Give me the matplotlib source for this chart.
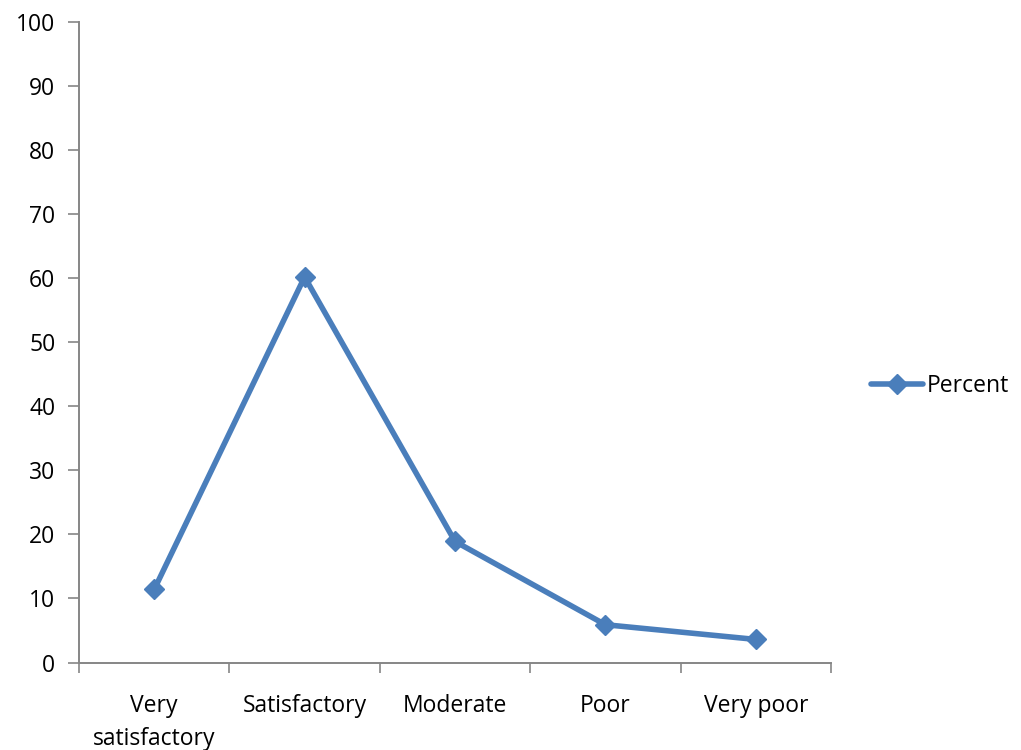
import matplotlib
matplotlib.use("Agg")
import matplotlib.pyplot as plt
import numpy as np

categories = ["Very\nsatisfactory", "Satisfactory", "Moderate", "Poor", "Very poor"]
percent = [11.4, 60.2, 18.9, 5.9, 3.6]
y_ticks = [0, 10, 20, 30, 40, 50, 60, 70, 80, 90, 100]

plt.rcParams["font.family"] = ["Open Sans", "DejaVu Sans"]

fig = plt.figure(figsize=(10.21, 7.5), dpi=100)
ax = fig.add_axes([79 / 1021, (750 - 662.5) / 750, (831 - 79) / 1021, (662.5 - 22) / 750])

line_color = "#4A7EBB"
axis_color = "#868686"
font_size = 16.5

x = np.arange(len(categories))
ax.plot(x, percent, color=line_color, linewidth=4, marker="D", markersize=10,
        markerfacecolor=line_color, markeredgecolor=line_color, label="Percent",
        solid_joinstyle="round", solid_capstyle="round")

ax.set_xlim(-0.5, len(categories) - 0.5)
ax.set_ylim(0, 100)
ax.set_yticks(y_ticks)
ax.set_yticklabels([str(v) for v in y_ticks])

ax.set_xticks(x)
ax.set_xticklabels(categories, linespacing=1.45)
ax.set_xticks(np.arange(-0.5, len(categories)), minor=True)
ax.tick_params(axis="x", which="major", length=0, pad=23, labelsize=font_size)
ax.tick_params(axis="x", which="minor", length=7, width=1.2, color=axis_color, direction="out")
ax.tick_params(axis="y", length=8, width=1.2, color=axis_color, direction="out", pad=9, labelsize=font_size)

for side in ("top", "right"):
    ax.spines[side].set_visible(False)
for side in ("left", "bottom"):
    ax.spines[side].set_color(axis_color)
    ax.spines[side].set_linewidth(1.4)

leg = fig.legend(handles=ax.get_lines(), loc="center left", bbox_to_anchor=(850 / 1021, 1 - 386 / 750),
                 frameon=False, fontsize=font_size, handlelength=2.3, handletextpad=0.15)

fig.savefig("out.png", dpi=100)
